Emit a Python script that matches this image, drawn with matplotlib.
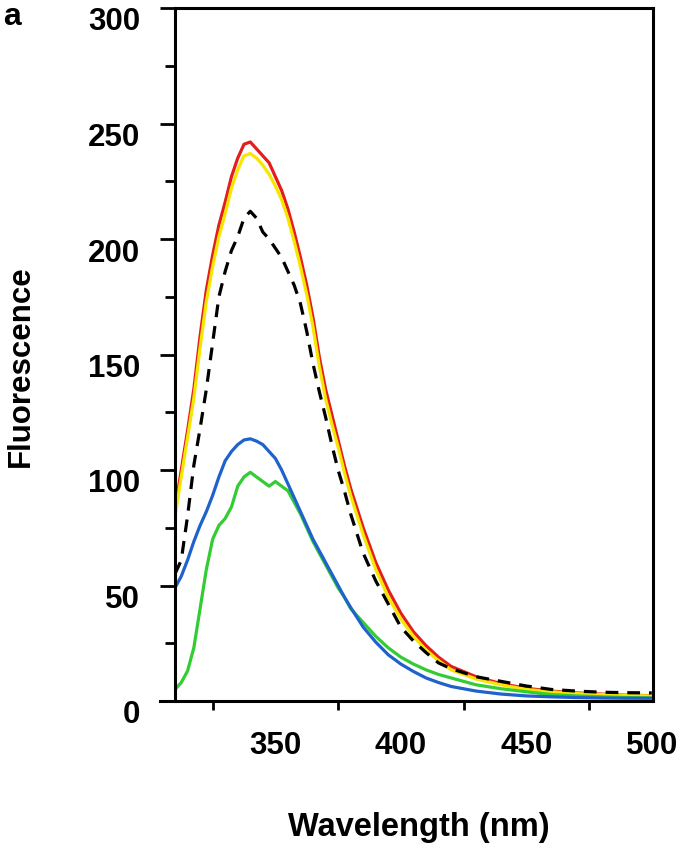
import numpy as np
import matplotlib
matplotlib.use("Agg")
import matplotlib.pyplot as plt
from matplotlib.transforms import ScaledTranslation

plt.rcParams['font.family'] = ['Liberation Sans', 'DejaVu Sans']
plt.rcParams['font.weight'] = 'bold'

# wavelength grid (nm)
wl = [310, 312.5, 315, 317.5, 320, 322.5, 325, 327.5, 330, 332.5, 335, 337.5,
      340, 342.5, 345, 347.5, 350, 352.5, 355, 357.5, 360, 362.5, 365, 367.5,
      370, 372.5, 375, 377.5, 380, 385, 390, 395, 400, 405, 410, 415, 420,
      430, 440, 450, 460, 470, 480, 490, 500]

red = [83, 100, 117, 135, 158, 178, 193, 206, 216, 227, 235, 241,
       242, 239, 236, 233, 227, 221, 213, 203, 192, 180, 166, 149,
       135, 124, 113, 102, 92, 75, 60, 48, 38, 30, 24, 19, 15,
       10.5, 7.5, 5.5, 4.3, 3.5, 3, 2.5, 2.3]

yellow = [80, 97, 114, 131, 153, 173, 188, 201, 211, 222, 230, 236,
          237, 235, 232, 228, 223, 217, 209, 199, 188, 176, 162, 145,
          131, 120, 110, 99, 89, 72, 57, 45, 35.5, 28, 22, 17.5, 13.5,
          9.5, 7, 5, 4, 3.2, 2.8, 2.4, 2.2]

dashed = [55, 61, 80, 102, 118, 135, 155, 175, 186, 195, 201, 209,
          212, 209, 203, 200, 196, 192, 186, 180, 172, 160, 146, 134,
          123, 111, 100, 91, 81, 64, 52, 42, 32, 26, 21, 16.5, 14,
          10.5, 8.5, 6.5, 5, 4.3, 3.8, 3.6, 3.5]

blue = [49, 54, 61, 69, 76, 82, 89, 97, 104, 108, 111, 113,
        113.5, 112.5, 111, 108, 105, 100, 94, 88, 82, 76, 70, 65,
        60, 55, 50, 45, 40.5, 32, 25.5, 20, 16, 12.8, 10, 8, 6.3,
        4.3, 3, 2.2, 1.8, 1.5, 1.3, 1.2, 1.2]

green = [5, 8, 13, 23, 40, 57, 70, 76, 79, 84, 93, 97,
         99, 97, 95, 93, 95, 93, 91, 86, 81, 75, 69, 64,
         59, 54, 49, 45, 40, 34, 28, 23, 19, 16, 13.5, 11.5, 10,
         7, 5.3, 4, 2.8, 2.2, 1.8, 1.5, 1.3]

fig = plt.figure(figsize=(6.82, 8.53), dpi=100)
ax = fig.add_axes([175/682, 1-702/853, (653-175)/682, (702-9)/853])

lw = 2.3
ax.plot(wl, red, color='#e41e1c', lw=lw)
ax.plot(wl, yellow, color='#f7e600', lw=lw)
ax.plot(wl, green, color='#33cc33', lw=lw)
ax.plot(wl, blue, color='#1f62cc', lw=lw)
ax.plot(wl, dashed, color='black', lw=lw, dashes=(4, 2.8))

ax.set_xlim(310, 500.5)
ax.set_ylim(0, 300)

ax.set_yticks(np.arange(0, 301, 50))
ax.set_yticks(np.arange(25, 300, 50), minor=True)
ax.set_xticks([350, 400, 450, 500])
ax.set_xticks([325, 375, 425, 475], minor=True)

ax.tick_params(axis='y', which='major', direction='out', length=11, width=2, pad=14, labelsize=22.5)
ax.tick_params(axis='y', which='minor', direction='out', length=7, width=2)
ax.tick_params(axis='x', which='major', length=0, pad=21, labelsize=22.5)
ax.tick_params(axis='x', which='minor', direction='out', length=6.5, width=2)
for s in ax.spines.values():
    s.set_linewidth(2.2)
# bottom axis line runs a little past the left axis, as in the original
ax.spines['bottom'].set_bounds(304, 500.5)

# y tick labels sit a bit below their ticks in the original
shift = ScaledTranslation(0, -0.1, fig.dpi_scale_trans)
for lab in ax.get_yticklabels():
    lab.set_transform(lab.get_transform() + shift)

fig.text(419/682, 1-828/853, 'Wavelength (nm)', ha='center', va='center', fontsize=23.5, fontweight='bold')
fig.text(21/682, 1-366/853, 'Fluorescence', ha='center', va='center', rotation=90, fontsize=22.5, fontweight='bold')
fig.text(3/682, 1-17/853, 'a', ha='left', va='center', fontsize=23, fontweight='bold')

fig.savefig('out.png', dpi=100)
